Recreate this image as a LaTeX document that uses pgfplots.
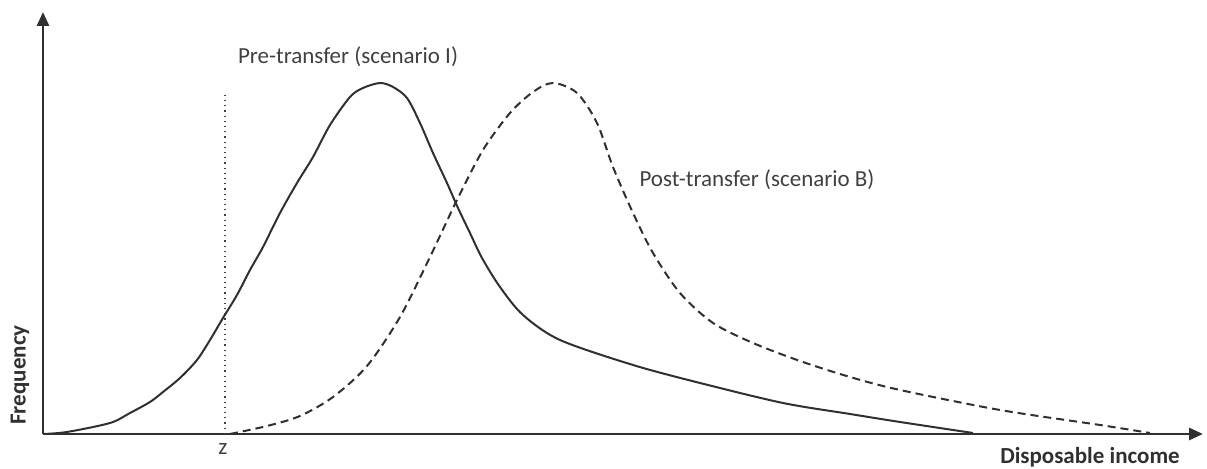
\documentclass[border=0pt]{standalone}
\usepackage{pgfplots}
\pgfplotsset{compat=1.18}
\usepackage{fontspec}
\setmainfont{Carlito}
\usetikzlibrary{arrows.meta}
\definecolor{ink}{HTML}{303030}
\definecolor{txt}{HTML}{404040}
\begin{document}
\begin{tikzpicture}
\begin{axis}[
  scale only axis,
  width=580pt, height=211pt,
  xmin=43, xmax=1203, ymin=0, ymax=422,
  axis lines=left,
  axis line style={line width=1.4pt, color=ink, -{Triangle[length=7pt,width=6pt]}},
  xtick=\empty, ytick=\empty,
  clip=false,
  font=\fontsize{11.5}{14}\selectfont,
]
% Pre-transfer (scenario I)
\addplot[ink, line width=1pt, smooth, tension=0.5] coordinates {
(43,0) (67,2) (110,11) (130,21) (150,32) (163,42) (180,56) (197,74)
(210,94) (223,116) (237,139) (250,164) (263,187) (280,221) (297,251)
(313,277) (330,309) (350,337) (363,346) (380,351) (393,347) (407,336)
(420,311) (433,281) (447,251) (458,226) (470,201) (482,176) (500,147)
(523,119) (560,94) (633,69) (700,51) (783,31) (850,20) (900,12) (973,1)
};
% Post-transfer (scenario B)
\addplot[ink, line width=1pt, smooth, tension=0.5, dash pattern=on 4pt off 2.5pt] coordinates {
(230,0) (267,8) (300,18) (333,37) (367,68) (400,117) (430,177) (457,234)
(483,284) (510,321) (533,342) (553,351) (577,341) (597,311) (613,267)
(633,221) (653,181) (680,141) (713,111) (753,91) (800,73) (850,57)
(900,44) (1000,24) (1100,9) (1150,1)
};
% poverty line z
\addplot[txt, line width=0.6pt, dotted] coordinates {(225,0) (225,339)};
\node[txt] at (axis cs:348,377) {Pre-transfer (scenario I)};
\node[txt] at (axis cs:757,254) {Post-transfer (scenario B)};
\node[txt] at (axis cs:223,-15) {z};
\node[ink, font=\fontsize{11.5}{14}\selectfont\bfseries] at (axis cs:1090,-23) {Disposable income};
\node[ink, font=\fontsize{11.5}{14}\selectfont\bfseries, rotate=90] at (axis cs:20,59) {Frequency};
\end{axis}
\pgfresetboundingbox
\useasboundingbox (-21.5pt,-17.5pt) rectangle (582pt,217pt);
\end{tikzpicture}
\end{document}
